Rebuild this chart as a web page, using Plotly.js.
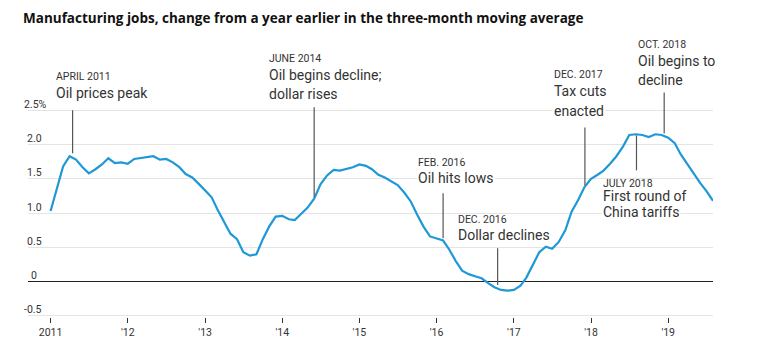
<!DOCTYPE html>
<html><head><meta charset="utf-8">
<script src="https://cdn.plot.ly/plotly-3.0.1.min.js"></script>
<style>html,body{margin:0;padding:0;background:#fff}#chart{width:767px;height:353px}</style>
</head><body><div id="chart"></div>
<script>
// Monthly values, % change from a year earlier (three-month moving average)
const v2011 = [1.03,1.38,1.68,1.83,1.78,1.67,1.58,1.64,1.71,1.80,1.73,1.74];
const v2012 = [1.72,1.79,1.80,1.81,1.83,1.78,1.79,1.74,1.67,1.57,1.52,1.43];
const v2013 = [1.33,1.23,1.05,0.87,0.70,0.62,0.43,0.38,0.40,0.62,0.81,0.95];
const v2014 = [0.96,0.91,0.90,0.99,1.08,1.21,1.42,1.55,1.63,1.62,1.64,1.67];
const v2015 = [1.71,1.69,1.64,1.56,1.52,1.47,1.41,1.30,1.17,0.98,0.80,0.66];
const v2016 = [0.63,0.60,0.47,0.30,0.16,0.11,0.08,0.05,-0.02,-0.08,-0.12,-0.13];
const v2017 = [-0.12,-0.06,0.06,0.24,0.43,0.51,0.48,0.58,0.75,1.02,1.19,1.38];
const v2018 = [1.50,1.56,1.62,1.72,1.83,1.97,2.14,2.15,2.14,2.11,2.15,2.14];
const v2019 = [2.10,2.02,1.86,1.72,1.58,1.44,1.32,1.18];
const years = [2011,2012,2013,2014,2015,2016,2017,2018,2019];
const yearValues = [v2011,v2012,v2013,v2014,v2015,v2016,v2017,v2018,v2019];
const xTickText = ["2011","'12","'13","'14","'15","'16","'17","'18","'19"];
const yTickVals = [-0.5,0,0.5,1,1.5,2,2.5];
const yTickText = ["-0.5","0","0.5","1.0","1.5","2.0","2.5%"];
const eventDates = ["APRIL 2011","JUNE 2014","FEB. 2016","DEC. 2016","DEC. 2017","JULY 2018","OCT. 2018"];
const eventText = [["Oil prices peak"],["Oil begins decline;","dollar rises"],["Oil hits lows"],["Dollar declines"],["Tax cuts","enacted"],["First round of","China tariffs"],["Oil begins to","decline"]];

// build series
const x = [], y = [];
yearValues.forEach((arr, yi) => arr.forEach((v, mi) => {
  x.push(years[yi] + '-' + String(mi + 1).padStart(2, '0') + '-01');
  y.push(v);
}));
const xTickVals = years.map(yr => yr + '-01-01');

// layout geometry
const L = 28, R = 54, T = 76, B = 36, W = 767, H = 353;
const pw = W - L - R, ph = H - T - B;
const px = p => (p - L) / pw;
const py = p => (H - B - p) / ph;

// leader lines: [date, y bottom, y top]; text placement [left px, date-line mid px, text-line mids px]
const leaders = [
  ["2011-04-15", 1.875, 2.50],
  ["2014-06-01", 1.235, 2.545],
  ["2016-02-01", 0.633, 1.289],
  ["2016-10-16", -0.05, 0.488],
  ["2017-12-03", 1.405, 2.25],
  ["2018-08-04", 1.624, 2.133],
  ["2018-12-13", 2.163, 2.76]
];
const place = [
  [55, 76.5, [93]],
  [267.5, 58.5, [75.3, 94.3]],
  [417.3, 162.7, [178.3]],
  [457.3, 219, [234.7]],
  [552.7, 74.5, [90.5, 110.5]],
  [602.3, 183.7, [196.3, 212.2]],
  [636.7, 44.5, [61.2, 80.3]]
];
// right edges (px) of y labels, decimal-aligned as in the reference
const yLabelRight = [43.3, 38.3, 43.3, 43.3, 43.3, 43.3, 48.3];

const small = "Roboto, sans-serif";
const shapes = leaders.map(l => ({
  type: 'line', xref: 'x', yref: 'y', x0: l[0], x1: l[0], y0: l[1], y1: l[2],
  line: {color: '#555', width: 1.2}, layer: 'above'
}));
const annotations = [];
const pad = 1;
// description lines first (white background breaks the gridlines)
eventText.forEach((lines, i) => {
  const p = place[i];
  lines.forEach((t, j) => {
    annotations.push({xref: 'paper', yref: 'paper', x: px(p[0] - pad), y: py(p[2][j]), xanchor: 'left', yanchor: 'middle',
      text: t, showarrow: false, bgcolor: '#fff', borderpad: pad,
      font: {family: 'Roboto, sans-serif', size: 14, color: '#333'}});
  });
});
// date labels on top
eventDates.forEach((d, i) => {
  const p = place[i];
  annotations.push({xref: 'paper', yref: 'paper', x: px(p[0] - pad), y: py(p[1]), xanchor: 'left', yanchor: 'middle',
    text: d, showarrow: false, borderpad: pad,
    font: {family: small, size: 10.5, color: '#333'}});
});
// y axis labels above gridlines
yTickVals.forEach((v, i) => {
  annotations.push({xref: 'paper', yref: 'y', x: px(yLabelRight[i]), y: v, xanchor: 'right', yanchor: 'middle',
    yshift: 6, text: yTickText[i], showarrow: false, borderpad: 0,
    font: {family: small, size: 10.5, color: '#333'}});
});

const trace = {x, y, type: 'scatter', mode: 'lines', line: {color: '#1e98d6', width: 2.2}, hoverinfo: 'skip'};

const layout = {
  width: W, height: H, margin: {l: L, r: R, t: T, b: B, pad: 0},
  paper_bgcolor: '#fff', plot_bgcolor: '#fff', showlegend: false,
  title: {text: 'Manufacturing jobs, change from a year earlier in the three-month moving average',
    xref: 'container', yref: 'container', x: 23 / W, xanchor: 'left', y: 1 - 18 / H, yanchor: 'middle',
    font: {family: "'Open Sans', sans-serif", size: 13.5, weight: 700, color: '#111'}},
  xaxis: {type: 'date', range: ['2010-09-16', '2019-08-01'], tickvals: xTickVals, ticktext: xTickText,
    showgrid: false, zeroline: false, showline: false, ticks: 'outside', ticklen: 5, tickcolor: '#333', tickwidth: 1,
    tickfont: {family: small, size: 10.5, color: '#333'}, fixedrange: true},
  yaxis: {range: [-0.515, 3.0], tickvals: yTickVals, showticklabels: false,
    showgrid: true, gridcolor: '#e4e4e4', gridwidth: 1, zeroline: true, zerolinecolor: '#222', zerolinewidth: 1,
    showline: false, ticks: '', fixedrange: true},
  shapes, annotations
};
Plotly.newPlot('chart', [trace], layout, {displayModeBar: false, staticPlot: true});
</script></body></html>
